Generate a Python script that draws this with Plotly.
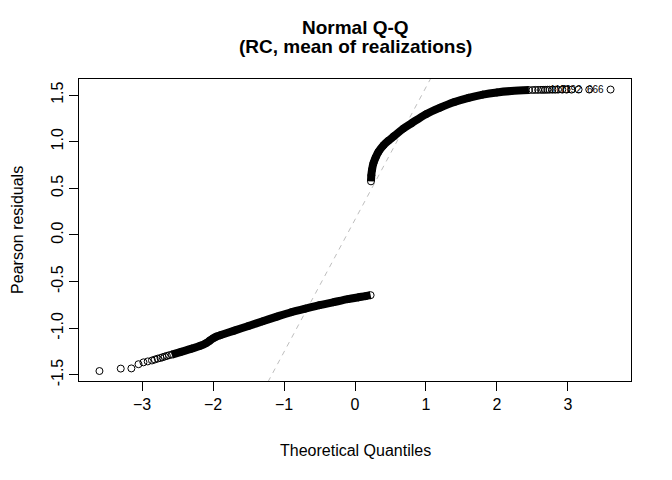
import plotly.graph_objects as go

# lower group: sparse tail circles then the dense band
lower_tail_q = [-3.60, -3.30, -3.15, -3.05, -2.98, -2.92, -2.86, -2.82,
                -2.78, -2.74, -2.71, -2.68, -2.65, -2.62]
lower_tail_r = [-1.458, -1.432, -1.430, -1.385, -1.365, -1.355, -1.345, -1.335,
                -1.325, -1.318, -1.310, -1.303, -1.296, -1.289]

lower_band_q = [-2.58, -2.45, -2.30, -2.18, -2.10, -2.05, -2.00, -1.95, -1.90,
                -1.70, -1.50, -1.30, -1.10, -0.90, -0.70, -0.50, -0.30, -0.10,
                0.05, 0.15, 0.22]
lower_band_r = [-1.282, -1.252, -1.218, -1.188, -1.160, -1.135, -1.108, -1.088,
                -1.075, -1.025, -0.975, -0.925, -0.875, -0.828, -0.790, -0.752,
                -0.720, -0.688, -0.668, -0.655, -0.645]

# upper group: dense band then sparse tail circles
upper_band_q = [0.225, 0.23, 0.24, 0.26, 0.29, 0.33, 0.40, 0.47, 0.55, 0.68,
                0.80, 1.00, 1.20, 1.40, 1.60, 1.80, 2.00, 2.20, 2.45]
upper_band_r = [0.575, 0.64, 0.70, 0.77, 0.83, 0.89, 0.96, 1.01, 1.06, 1.14,
                1.20, 1.295, 1.365, 1.425, 1.470, 1.505, 1.528, 1.543, 1.553]

upper_tail_q = [2.50, 2.54, 2.58, 2.62, 2.65, 2.68, 2.71, 2.74, 2.78, 2.82,
                2.86, 2.92, 2.98, 3.05, 3.15, 3.30, 3.60]
upper_tail_r = [1.554, 1.555, 1.555, 1.556, 1.556, 1.556, 1.557, 1.557, 1.557,
                1.557, 1.558, 1.558, 1.558, 1.558, 1.559, 1.559, 1.559]

# labelled extreme points
id_q = [3.15, 3.30, 3.60]
id_r = [1.559, 1.559, 1.559]
id_text = ["1171", "1192", "666"]

# qqline through the quartiles
qq_line_q = [-0.6745, 0.6745]
qq_line_r = [-0.792, 1.122]

x_range = [-3.888, 3.888]
y_range = [-1.565, 1.672]
x_ticks = [-3, -2, -1, 0, 1, 2, 3]
y_ticks = [-1.5, -1.0, -0.5, 0.0, 0.5, 1.0, 1.5]

FONT = "Liberation Sans, Arial, Helvetica, sans-serif"

slope = (qq_line_r[1] - qq_line_r[0]) / (qq_line_q[1] - qq_line_q[0])
icpt = qq_line_r[0] - slope * qq_line_q[0]

fig = go.Figure()

fig.add_trace(go.Scatter(x=x_range, y=[icpt + slope * v for v in x_range],
                         mode="lines",
                         line=dict(color="#bebebe", width=1, dash="5px,5px")))

for bq, br in [(lower_band_q, lower_band_r), (upper_band_q, upper_band_r)]:
    fig.add_trace(go.Scatter(x=bq, y=br, mode="lines",
                             line=dict(color="black", width=8, shape="spline")))

all_q = lower_tail_q + lower_band_q + upper_band_q + upper_tail_q
all_r = lower_tail_r + lower_band_r + upper_band_r + upper_tail_r
fig.add_trace(go.Scatter(x=all_q, y=all_r, mode="markers",
                         marker=dict(symbol="circle-open", size=7, color="black",
                                     line=dict(width=1, color="black"))))

for q, r, t in zip(id_q, id_r, id_text):
    fig.add_annotation(x=q, y=r, text=t, showarrow=False, xanchor="right",
                       yanchor="middle", xshift=-5,
                       font=dict(size=10, color="black", family=FONT))

# page body adds an 8px offset, margins below compensate for it
fig.add_annotation(text="<b>Normal Q-Q</b>", xref="paper", yref="paper",
                   x=0.5, y=1.172, xanchor="center", yanchor="middle",
                   showarrow=False, font=dict(size=19, color="black", family=FONT))
fig.add_annotation(text="<b>(RC, mean of realizations)</b>", xref="paper",
                   yref="paper", x=0.5, y=1.106, xanchor="center",
                   yanchor="middle", showarrow=False,
                   font=dict(size=19, color="black", family=FONT))
fig.add_annotation(text="Theoretical Quantiles", xref="paper", yref="paper",
                   x=0.5, y=-0.2285, xanchor="center", yanchor="middle",
                   showarrow=False, font=dict(size=16, color="black", family=FONT))
fig.add_annotation(text="Pearson residuals", xref="paper", yref="paper",
                   x=-0.1125, y=0.5, textangle=-90, xanchor="center",
                   yanchor="middle", showarrow=False,
                   font=dict(size=16, color="black", family=FONT))

fig.update_xaxes(range=x_range, tickvals=x_ticks, ticks="outside", ticklen=9,
                 tickcolor="black", showline=True, mirror=True, linecolor="black",
                 linewidth=1, showgrid=False, zeroline=False,
                 tickfont=dict(size=16, color="black", family=FONT))
fig.update_yaxes(range=y_range, tickvals=y_ticks,
                 ticktext=["%.1f" % v for v in y_ticks], tickangle=-90,
                 ticks="outside", ticklen=9, tickcolor="black", showline=True,
                 mirror=True, linecolor="black", linewidth=1, showgrid=False,
                 zeroline=False, tickfont=dict(size=16, color="black", family=FONT))

fig.update_layout(width=672, height=480, showlegend=False,
                  margin=dict(l=71, r=49, t=71, b=107),
                  plot_bgcolor="white", paper_bgcolor="white")

fig.write_html("out.html")
